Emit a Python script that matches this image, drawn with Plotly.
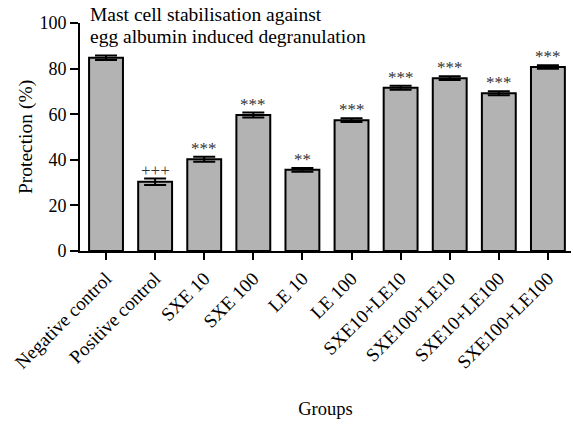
import plotly.graph_objects as go

groups = ["Negative control", "Positive control", "SXE 10", "SXE 100", "LE 10", "LE 100",
          "SXE10+LE10", "SXE100+LE10", "SXE10+LE100", "SXE100+LE100"]
protection = [84.8, 30.4, 40.2, 59.6, 35.6, 57.4, 71.6, 75.8, 69.2, 80.7]
errors = [1.0, 1.4, 1.1, 1.1, 0.8, 0.8, 0.9, 0.8, 0.9, 0.8]
signif = ["", "+++", "***", "***", "**", "***", "***", "***", "***", "***"]
title_lines = ["Mast cell stabilisation against", "egg albumin induced degranulation"]

FONT = "Liberation Serif"
W, H = 573, 427
L, R, T, B = 80, 2, 23, 176
PH = H - T - B

fig = go.Figure()
fig.add_trace(go.Bar(
    x=list(range(len(groups))), y=protection,
    marker=dict(color="#b3b3b3", line=dict(color="black", width=2)),
    width=0.69,
    error_y=dict(type="data", array=errors, color="black", thickness=2, width=11),
))

for i, (v, e, s) in enumerate(zip(protection, errors, signif)):
    if s:
        fig.add_annotation(x=i, y=v + e, text=s, showarrow=False, yanchor="bottom",
                           yshift=-3, font=dict(family=FONT, size=17, color="#333333"))

for k, line in enumerate(title_lines):
    top_px = 2 + 22 * k
    fig.add_annotation(xref="paper", yref="paper", x=0.016, y=1 + (T - top_px) / PH,
                       xanchor="left", yanchor="top", align="left", showarrow=False,
                       text=line, font=dict(family=FONT, size=19.5, color="black"))

fig.update_layout(
    width=W, height=H,
    margin=dict(l=L, r=R, t=T, b=B),
    plot_bgcolor="white", paper_bgcolor="white",
    font=dict(family=FONT, size=18, color="black"),
    showlegend=False,
    bargap=0.31,
)
fig.update_xaxes(
    range=[-0.53, 9.47], tickmode="array", tickvals=list(range(len(groups))), ticktext=groups,
    tickangle=-45, ticks="outside", ticklen=7, tickwidth=2, tickcolor="black",
    showline=True, linecolor="black", linewidth=2, showgrid=False, zeroline=False,
    tickfont=dict(family=FONT, size=19), automargin=False,
    title=dict(text="Groups", font=dict(family=FONT, size=18.5), standoff=30),
)
fig.update_yaxes(
    range=[0, 100], tickvals=[0, 20, 40, 60, 80, 100], ticks="outside", ticklen=8, tickwidth=2,
    tickcolor="black", showline=True, linecolor="black", linewidth=2, showgrid=False,
    zeroline=False, tickfont=dict(family=FONT, size=18), automargin=False,
    title=dict(text="Protection (%)", font=dict(family=FONT, size=19.5), standoff=2),
)

# remove the page's default body margin so the figure fills the window exactly
fig.write_html("out.html", config={"displayModeBar": False},
               post_script="document.body.style.margin='0px';")
